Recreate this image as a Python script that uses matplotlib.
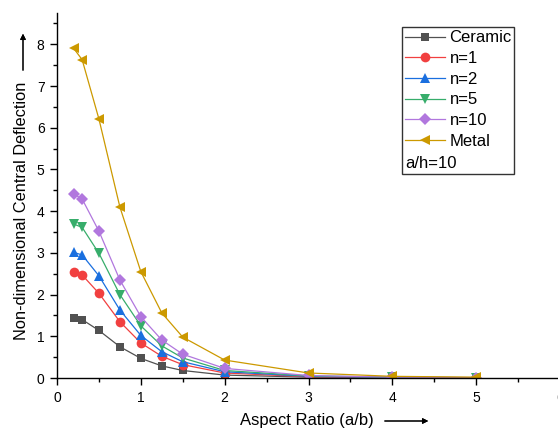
import numpy as np
import matplotlib.pyplot as plt
from matplotlib.patches import Rectangle

plt.rcParams['font.family'] = ['Liberation Sans', 'DejaVu Sans']

aspect = [0.2, 0.3, 0.5, 0.75, 1.0, 1.25, 1.5, 2.0, 3.0, 4.0, 5.0]
ceramic = [1.45, 1.40, 1.14, 0.75, 0.47, 0.29, 0.18, 0.07, 0.02, 0.01, 0.005]
n1 = [2.53, 2.47, 2.03, 1.35, 0.84, 0.52, 0.32, 0.12, 0.03, 0.01, 0.005]
n2 = [3.01, 2.95, 2.45, 1.63, 1.02, 0.63, 0.39, 0.15, 0.04, 0.015, 0.007]
n5 = [3.69, 3.61, 2.99, 2.00, 1.25, 0.77, 0.48, 0.18, 0.05, 0.02, 0.008]
n10 = [4.41, 4.29, 3.52, 2.35, 1.47, 0.91, 0.57, 0.23, 0.06, 0.02, 0.01]
metal = [7.90, 7.63, 6.21, 4.10, 2.55, 1.56, 0.98, 0.43, 0.12, 0.04, 0.02]

series = [
    ('Ceramic', ceramic, '#515151', 's', 6),
    ('n=1', n1, '#F14040', 'o', 7),
    ('n=2', n2, '#1A6FDF', '^', 7),
    ('n=5', n5, '#37AD6B', 'v', 7),
    ('n=10', n10, '#B177DE', 'D', 6),
    ('Metal', metal, '#CC9900', '<', 7),
]

fig = plt.figure(figsize=(5.58, 4.30), dpi=100)
W, H = 558, 430
ax = fig.add_axes([57 / W, (H - 378) / H, 503 / W, 365 / H])

for name, vals, col, mk, ms in series:
    ax.plot(aspect, vals, color=col, marker=mk, markersize=ms, linewidth=0.9,
            markeredgewidth=0, label=name)

ax.set_xlim(0, 6)
ax.set_ylim(0, 8.75)
ax.set_xticks([0, 1, 2, 3, 4, 5, 6])
ax.set_xticks(np.arange(0.5, 6, 1), minor=True)
ax.set_yticks(range(0, 9))
ax.set_yticks(np.arange(0.5, 8.75, 1), minor=True)
ax.tick_params(which='major', direction='out', length=5, width=1, labelsize=10, pad=4)
ax.tick_params(which='minor', direction='out', length=3, width=1)
for s in ['top', 'right']:
    ax.spines[s].set_visible(False)
for s in ['left', 'bottom']:
    ax.spines[s].set_linewidth(1)

ax.set_xlabel('Aspect Ratio (a/b)', fontsize=12)
ax.set_ylabel('Non-dimensional Central Deflection', fontsize=11.8)
ax.xaxis.set_label_coords((307 - 57) / 503, -(421 - 378) / 365)
ax.yaxis.set_label_coords((22 - 57) / 503, (378 - 211) / 365)
ax.xaxis.label.set_va('center')
ax.yaxis.label.set_va('center')

# arrows next to the axis labels
fig.add_artist(plt.annotate('', xy=(431 / W, 1 - 421 / H), xytext=(382 / W, 1 - 421 / H),
                            xycoords='figure fraction',
                            arrowprops=dict(arrowstyle='-|>', color='black', lw=0.8,
                                            mutation_scale=8)))
fig.add_artist(plt.annotate('', xy=(23 / W, 1 - 31 / H), xytext=(23 / W, 1 - 73 / H),
                            xycoords='figure fraction',
                            arrowprops=dict(arrowstyle='-|>', color='black', lw=0.8,
                                            mutation_scale=8)))

leg = ax.legend(loc='upper left', bbox_to_anchor=((402 - 57) / 503, (378 - 28) / 365),
                frameon=False, fontsize=12, handlelength=2.4, handletextpad=0.3,
                labelspacing=0.34, borderaxespad=0, borderpad=0.15)
fig.text(405 / W, 1 - 164 / H, 'a/h=10', fontsize=12, va='center', ha='left')
fig.add_artist(Rectangle((402 / W, 1 - 174 / H), 112 / W, 147 / H,
                         transform=fig.transFigure, fill=False,
                         edgecolor='#333333', linewidth=1))

fig.savefig('out.png', dpi=100)
